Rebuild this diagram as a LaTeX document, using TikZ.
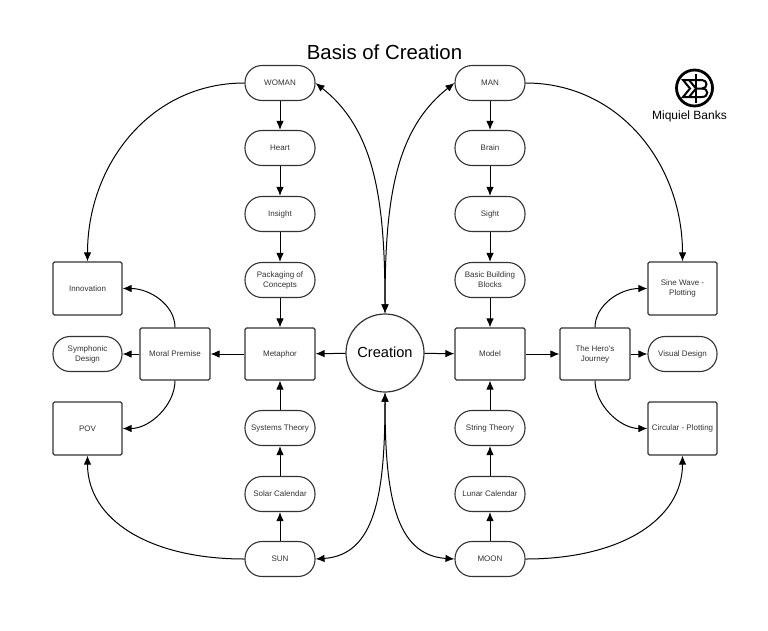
\documentclass[tikz,border=0pt]{standalone}
\usepackage{fontspec}
\setmainfont{Liberation Sans}
\usetikzlibrary{arrows.meta}
\definecolor{ln}{HTML}{333333}
\tikzset{
 x=1pt,y=-1pt,
 base/.style={draw=ln,line width=1.1pt,align=center,font=\fontsize{8}{10}\selectfont,text=ln,inner sep=0pt,fill=white},
 pill/.style={base,minimum width=70pt,minimum height=35pt,rounded corners=17pt},
 pillw/.style={base,minimum width=69pt,minimum height=35pt,rounded corners=17pt},
 box/.style={base,minimum width=70pt,minimum height=52pt,rounded corners=1.5pt},
 boxw/.style={base,minimum width=69pt,minimum height=53pt,rounded corners=1.5pt},
 conn/.style={draw=black,line width=1pt,-{Latex[length=9pt,width=7.5pt]}},
 conn2/.style={draw=black,line width=1pt,{Latex[length=9pt,width=7.5pt]}-{Latex[length=9pt,width=7.5pt]}},
 logoline/.style={black,line width=2pt,line join=miter},
}
\begin{document}
\begin{tikzpicture}
\useasboundingbox (0,0) rectangle (768,630);
\node[font=\fontsize{20.4}{24}\selectfont,text=black,inner sep=0] (title) at (384.5,52) {Basis of Creation};
\node[font=\fontsize{12}{14}\selectfont,text=black,inner sep=0] (brand) at (689.5,116) {Miquiel Banks};
% logo
\node[circle,draw=black,line width=2.8pt,minimum size=36pt,inner sep=0] (logo) at (694.5,88) {};
\draw[black,line width=2pt] (696,74) -- (696,103);
\draw[logoline] (696,80) -- (683,80) -- (690,88.5) -- (683,97) -- (696,97);
\draw[logoline] (689,80) -- (696,88.5) -- (689,97);
\draw[logoline] (696,80) -- (702,80) .. controls (708,80) and (708,88.5) .. (702,88.5) -- (696,88.5);
\draw[logoline] (702,88.5) .. controls (709,88.5) and (709,97) .. (702,97) -- (696,97);

\node[circle,draw=ln,line width=1.2pt,minimum size=78pt,inner sep=0,fill=white,font=\fontsize{14.6}{18}\selectfont,text=black] (creation) at (385,353) {\raisebox{2pt}{Creation}};

\node[pill] (woman) at (280,83) {WOMAN};
\node[pill] (heart) at (280,148) {Heart};
\node[pill] (insight) at (280,214) {Insight};
\node[pill] (pack) at (280,280) {Packaging of\\Concepts};
\node[box] (metaphor) at (280,354) {Metaphor};
\node[pill] (systems) at (280,428) {Systems Theory};
\node[pill] (solar) at (280,494) {Solar Calendar};
\node[pill] (sun) at (280,559) {SUN};

\node[pill] (man) at (490,83) {MAN};
\node[pill] (brain) at (490,148) {Brain};
\node[pill] (sight) at (490,214) {Sight};
\node[pill] (blocks) at (490,280) {Basic Building\\Blocks};
\node[box] (model) at (490,354) {Model};
\node[pill] (string) at (490,428) {String Theory};
\node[pill] (lunar) at (490,494) {Lunar Calendar};
\node[pill] (moon) at (490,559) {MOON};

\node[box] (moral) at (175,354) {Moral Premise};
\node[box] (hero) at (595,354) {The Hero's\\Journey};
\node[boxw] (innov) at (87.5,288.5) {Innovation};
\node[pillw] (symph) at (87.5,354) {Symphonic\\Design};
\node[boxw] (pov) at (87.5,428.5) {POV};
\node[boxw] (sine) at (682.5,288.5) {Sine Wave -\\Plotting};
\node[pillw] (visual) at (682.5,354) {Visual Design};
\node[boxw] (circ) at (682.5,428.5) {Circular - Plotting};

\foreach \a/\b in {woman/heart,heart/insight,insight/pack,pack/metaphor,sun/solar,solar/systems,systems/metaphor,
 man/brain,brain/sight,sight/blocks,blocks/model,moon/lunar,lunar/string,string/model,
 creation/metaphor,creation/model,metaphor/moral,model/hero,moral/symph,hero/visual}
 \draw[conn] (\a) -- (\b);

\draw[conn2] (creation.north) .. controls (385,200) and (375,130) .. (woman.east);
\draw[conn2] (creation.north) .. controls (385,200) and (395,130) .. (man.west);
\draw[conn2] (creation.south) .. controls (385,495) and (375,555) .. (sun.east);
\draw[conn2] (creation.south) .. controls (385,495) and (395,555) .. (moon.west);

\draw[conn] (woman.west) .. controls (150,83) and (87.5,165) .. (innov.north);
\draw[conn] (man.east) .. controls (620,83) and (682.5,165) .. (sine.north);
\draw[conn] (sun.west) .. controls (150,559) and (87.5,520) .. (pov.south);
\draw[conn] (moon.east) .. controls (620,559) and (682.5,520) .. (circ.south);

\draw[conn] (moral.north) .. controls (175,305) and (150,288.5) .. (innov.east);
\draw[conn] (moral.south) .. controls (175,405) and (150,428.5) .. (pov.east);
\draw[conn] (hero.north) .. controls (595,305) and (620,288.5) .. (sine.west);
\draw[conn] (hero.south) .. controls (595,405) and (620,428.5) .. (circ.west);
\end{tikzpicture}
\end{document}
